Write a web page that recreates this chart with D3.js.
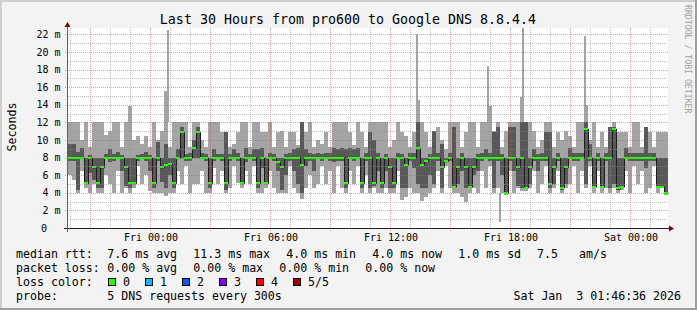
<!DOCTYPE html>
<html>
<head>
<meta charset="utf-8">
<script src="https://cdn.jsdelivr.net/npm/d3@7"></script>
<style>
  html, body { margin: 0; padding: 0; background: #f3f3f3; }
  svg { display: block; font-family: "DejaVu Sans Mono", monospace; }
  text { white-space: pre; }
</style>
</head>
<body>
<script>
// rtt samples in ms, one per 12 minute bin, Thu 19:54 -> Sat 01:54
var lo = [6,5.5,4,6.5,4.5,4,5,4,4,6, 5,4,6.5,4,4.5,4,4.5,7,5,6, 4.2,4,4,4,3.6,4,4,6.5,5,7,
          4,5,5,6.5,4,4,6.8,5,6.5,4, 4.5,7,5.1,4.5,6.5,5,7,4,4,4.5, 6.5,4.5,4,4,4,7,4.5,4,3.3,4.5,
          6,4.5,5,7,5,6.5,4,7,4.5,4, 6.5,5,7,4,6,4,4.5,4,4,4.5, 4,4,6.5,3.2,3.5,4.5,4,4,3.1,3.5,
          4,4.5,6.5,4,7,4.5,4,4,3.5,3, 4,4.5,4,6.5,4.5,7,4,4.5,4,3.8, 6.5,4,4.5,4.2,4.2,4.5,6.5,4,5,7,
          4,4.5,6.5,4,4.5,5,7,4,6.5,4.5, 7,4,6.5,4,4.5,4,4.5,4,4.3,6.5, 4,7,5,6.5,4,4.5,7,4,4.5,3.8];
var q1 = [7.6,7.6,4.3,7.8,5,6.2,5.5,4.5,4.5,7.8, 7.5,7.6,7.8,6.5,4.8,4.5,5,7.6,7.8,7.6, 6.5,4.5,7.6,5.2,4.5,6,4.5,7.8,8,7.6,
          7.6,8,8,7.8,7.6,4.5,7.6,7.8,7.6,4.3, 7.6,7.8,7.6,5,7.5,7.8,7.6,4.5,6.8,5, 7.8,7.6,6.5,4.3,6,7.6,6.5,5,4,7,
          7.6,6.5,7.8,7.6,7.8,7.6,7.5,7.6,7.6,4.5, 7.8,7.6,7.8,4.5,7.6,4.5,4.8,6.5,4.5,6.5, 4.5,4.5,7.8,4.5,4.6,7.6,6.8,5,4.5,4.5,
          6,5,7.6,4.5,7.5,7.6,4.5,5,6.5,4.5, 4.5,6,6.5,7.6,7.8,7.6,4.5,7.6,6,4, 7.6,6.5,4.8,4.5,4.5,5,7.6,6.5,7.6,7.6,
          4.5,5,7.6,4.3,5,7.8,7.6,7.6,7.8,5, 7.6,4.5,7.6,4.5,7.6,4.5,5,4.3,4.5,7.8, 7.6,7.6,7.6,7.6,6.8,7.6,7.6,4.5,4.6,3.9];
var med = [8,8,8,8,5.1,8,6.9,5.1,6.9,8, 8,8,8,8,6.9,5.1,5.1,8,8,8, 8,5.1,8,6.9,7.2,7.3,5.1,8,10.9,8,
           8,9.1,10.9,8,8,5.1,8,8,8,5.1, 8,8,8,5.1,8,8,8,5.1,8,5.1, 8,8,7.5,6.9,8,8,8,8,7.2,8,
           8,8,8,8,8,8,8,8,8,5.1, 8,8,8,5.1,8,8,5.1,8,5.1,8, 6.9,5.1,8,8,7.2,8,8,9.1,7.2,7.6,
           8,8,8,6.9,7.6,8,4.7,6.9,8,6.9, 4.7,6.9,8,8,8,8,8,8,8,4, 8,8,6.9,8,4.6,6.9,8,8,8,8,
           5,6.9,8,4.6,6.9,8,8,8,8,11.3, 8,4.7,8,4.7,8,8,11.3,4.5,4.7,8, 8,8,8,8,8,8,8,4.7,4.7,4];
var q3 = [9.5,9.5,8.6,9.1,8,8.3,8,8,8,8.4, 9,8.4,8.6,8.3,8,8,8,8.3,8.4,8.6, 8.3,8,9.8,8,9.5,8,8,9,11.5,8.4,
          8.5,10,11.5,8.5,8.4,8,9,8.4,8.4,10.9, 8.4,9,8.5,8,9.1,8.4,9,9,9.1,8, 8.5,8.4,8,8,8.4,8.5,9,9.1,12,9,
          8.5,8.4,8.5,8.4,8.5,8.5,9.1,9,9.1,9, 9.1,9,9.1,8,8.5,10.9,10,8.5,8,8.4, 8,8,8.5,8.4,8,8.5,8.5,12,8,8,
          8.4,11,8.5,9.5,8,8.5,11.5,8,8.5,8, 8,8,8.4,8.5,9,8.5,10.9,11.5,8.4,8, 11.5,11.5,8,12,12,8,9,8.4,8.5,10.9,
          10.9,8,8.5,8,8,9.1,8.5,8.5,8.5,12, 9.5,8,8.5,8,8.5,11.5,11.5,8,8,9.1, 8.5,8.5,8.5,8.5,11.5,8.5,8.5,8,8,8];
var hi = [12,12,12,10,12,9.2,12,12,12,10.6, 11,12,12,9.2,12,13.9,10,10.5,9.5,10.5, 9.2,12,10,11,15.6,9.2,12,12,12,12,
          9.2,12,12,10,9.2,12,12,12,10.9,10.9, 9.2,9.5,10.9,12,12,9.2,12,12,10.9,10.9, 12,9.2,10.9,11,9.2,10.9,10.9,9.4,12,10.9,
          12,9.2,10,9.5,10.9,9.2,12,12,12,12, 10.9,9.4,12,10.9,9.2,12,12,12,12,12, 9.2,10,12,10.9,10.5,9.2,10.9,14.5,12,10.9,
          9.2,11,11.5,10,9,12,12,12,9.2,10.9, 12,12,9.2,12,12,13.9,11,12,9.2,11, 12,12,12,14.9,12,12,11,9.2,10,12,
          12,9.2,10.9,10,11,10.5,9.2,12,12,14, 10,12,9.2,10.9,9.2,11.5,12,10.9,10.9,10.9, 9.2,12,12,9.2,11.5,10.9,9.2,10.9,10.9,10.9];

// single samples that reach far outside their bin (hours after start)
var spikeHours = [5.0, 17.45, 21.0, 21.6, 22.75, 25.85];
var spikeFrom  = [12, 12, 12, 4, 12, 12];
var spikeTo    = [22.5, 22.1, 18.4, 0.7, 22.7, 21.8];

var yTicks = [2,4,6,8,10,12,14,16,18,20,22];
var lossLabels = ["0","1","2","3","4","5/5"];
var lossColors = ["#26ff00","#00b8ff","#0059ff","#7e00ff","#ff0000","#a10000"];
var rttLegend  = ["7.6 ms avg","11.3 ms max"," 4.0 ms min"," 4.0 ms now"," 1.0 ms sd"];
var lossLegend = ["0.00 % avg","0.00 % max","0.00 % min","0.00 % now"];

var W = 697, H = 310;
var pL = 68, pR = 668, pT = 28, pB = 228;
var t0 = new Date(2026, 0, 1, 19, 54), t1 = new Date(2026, 0, 3, 1, 54);
var binMin = 12;

var x = d3.scaleTime().domain([t0, t1]).range([pL, pR]);
var y = d3.scaleLinear().domain([0, 200 / 8.8]).range([pB, pT]);

var svg = d3.select("body").append("svg").attr("width", W).attr("height", H);

// background + 3d frame
svg.append("rect").attr("width", W).attr("height", H).attr("fill", "#f3f3f3");
svg.append("path").attr("d", "M0,0H697V2H2V310H0Z").attr("fill", "#cfcfcf");
svg.append("path").attr("d", "M697,0V310H0V308H695V0Z").attr("fill", "#9e9e9e");
svg.append("rect").attr("x", pL).attr("y", pT).attr("width", pR - pL).attr("height", pB - pT).attr("fill", "#fff");

var bins = d3.range(med.length).map(function(i) {
  return { a: d3.timeMinute.offset(t0, binMin * i), b: d3.timeMinute.offset(t0, binMin * (i + 1)),
           lo: lo[i], q1: q1[i], med: med[i], q3: q3[i], hi: hi[i] };
});

var plot = svg.append("g").attr("shape-rendering", "crispEdges");

// outer smoke (min..max)
plot.selectAll(".s1").data(bins).enter().append("rect")
  .attr("x", function(d) { return x(d.a); })
  .attr("width", function(d) { return x(d.b) - x(d.a); })
  .attr("y", function(d) { return y(d.hi); })
  .attr("height", function(d) { return y(d.lo) - y(d.hi); })
  .attr("fill", "#a4a4a4");

// spikes
plot.selectAll(".sp").data(spikeHours).enter().append("rect")
  .attr("x", function(h) { return x(d3.timeMinute.offset(t0, h * 60)) - 1; })
  .attr("width", 2)
  .attr("y", function(h, i) { return y(Math.max(spikeFrom[i], spikeTo[i])); })
  .attr("height", function(h, i) { return Math.abs(y(spikeFrom[i]) - y(spikeTo[i])); })
  .attr("fill", "#a4a4a4");

// inner smoke
plot.selectAll(".s2").data(bins).enter().append("rect")
  .attr("x", function(d) { return x(d.a); })
  .attr("width", function(d) { return x(d.b) - x(d.a); })
  .attr("y", function(d) { return y(d.q3); })
  .attr("height", function(d) { return y(d.q1) - y(d.q3); })
  .attr("fill", "#585858");

// median: dark step line, green box per sample on top
var stepPts = bins.map(function(d) { return [x(d.a), y(d.med)]; });
stepPts.push([x(t1), y(med[med.length - 1])]);
svg.append("path")
  .attr("d", d3.line().curve(d3.curveStepAfter)(stepPts))
  .attr("fill", "none").attr("stroke", "#1c1c1c").attr("stroke-width", 1)
  .attr("transform", "translate(0.5,0.5)");

svg.append("g").attr("shape-rendering", "crispEdges")
  .selectAll("rect").data(bins).enter().append("rect")
  .attr("x", function(d) { return x(d.a); })
  .attr("width", function(d) { return x(d.b) - x(d.a); })
  .attr("y", function(d) { return Math.round(y(d.med)) - 1; })
  .attr("height", 2)
  .attr("fill", lossColors[0]);

// grid
var grid = svg.append("g").attr("stroke-dasharray", "1,1").attr("shape-rendering", "crispEdges");
var hours = d3.timeHour.range(t0, t1);
grid.selectAll(".vg").data(hours).enter().append("line")
  .attr("x1", function(d) { return Math.round(x(d)) + 0.5; })
  .attr("x2", function(d) { return Math.round(x(d)) + 0.5; })
  .attr("y1", pT)
  .attr("y2", function(d) { return d.getHours() % 3 === 0 ? pB + 3 : pB; })
  .attr("stroke", function(d) { return d.getHours() % 3 === 0 ? "rgba(222,80,80,0.55)" : "rgba(143,143,143,0.55)"; });

var minorY = d3.range(1, 23);
grid.selectAll(".hg").data(minorY).enter().append("line")
  .attr("x1", function(v) { return v % 2 === 0 ? pL - 3 : pL; })
  .attr("x2", pR)
  .attr("y1", function(v) { return Math.round(y(v)) + 0.5; })
  .attr("y2", function(v) { return Math.round(y(v)) + 0.5; })
  .attr("stroke", function(v) { return v % 2 === 0 ? "rgba(222,80,80,0.55)" : "rgba(143,143,143,0.55)"; });

// axes
svg.append("line").attr("x1", pL - 4).attr("x2", pR + 2).attr("y1", pB + 0.5).attr("y2", pB + 0.5)
  .attr("stroke", "#202020");
svg.append("line").attr("x1", pL - 0.5).attr("x2", pL - 0.5).attr("y1", pB + 4).attr("y2", pT - 2)
  .attr("stroke", "#606060");
svg.append("path").attr("d", "M" + (pR + 1) + "," + (pB - 2.5) + "L" + (pR + 6) + "," + (pB + 0.5) + "L" + (pR + 1) + "," + (pB + 3.5) + "Z")
  .attr("fill", "#7f0000");
svg.append("path").attr("d", "M" + (pL - 3.5) + "," + (pT - 1) + "L" + (pL - 0.5) + "," + (pT - 6) + "L" + (pL + 2.5) + "," + (pT - 1) + "Z")
  .attr("fill", "#7f0000");

// tick labels
svg.selectAll(".yl").data(yTicks).enter().append("text")
  .attr("x", 60.5).attr("y", function(v) { return y(v) + 3.5; })
  .attr("text-anchor", "end").attr("font-size", "10px").attr("fill", "#000")
  .text(function(v) { return v + " m"; });
svg.append("text").attr("x", 47).attr("y", y(0) + 3.5).attr("text-anchor", "end")
  .attr("font-size", "10px").text("0");

var fmt = d3.timeFormat("%a %H:%M");
svg.selectAll(".xl").data(d3.timeHour.every(6).range(t0, t1)).enter().append("text")
  .attr("x", function(d) { return x(d) + 1; }).attr("y", 241)
  .attr("text-anchor", "middle").attr("font-size", "10px")
  .text(function(d) { return fmt(d); });

// titles
svg.append("text").attr("x", 348).attr("y", 24).attr("text-anchor", "middle")
  .attr("font-size", "13.3px").text("Last 30 Hours from pro600 to Google DNS 8.8.4.4");
svg.append("text").attr("transform", "translate(15.5,127) rotate(-90)").attr("text-anchor", "middle")
  .attr("font-size", "11.6px").text("Seconds");
svg.append("text").attr("transform", "translate(685,5) rotate(90)")
  .attr("font-size", "8.2px").attr("fill", "#a0a0a0").text("RRDTOOL / TOBI OETIKER");

// legend
var lg = svg.append("g").attr("font-size", "11.6px").attr("fill", "#000");
var col0 = 16, col1 = 107.3, colStep = 86;
lg.append("text").attr("x", col0).attr("y", 258).text("median rtt:");
lg.selectAll(".r1").data(rttLegend).enter().append("text")
  .attr("x", function(d, i) { return col1 + colStep * i; }).attr("y", 258).text(function(d) { return d; });
lg.append("text").attr("x", 537).attr("y", 258).text("7.5");
lg.append("text").attr("x", 579).attr("y", 258).text("am/s");

lg.append("text").attr("x", col0).attr("y", 272).text("packet loss:");
lg.selectAll(".r2").data(lossLegend).enter().append("text")
  .attr("x", function(d, i) { return col1 + colStep * i; }).attr("y", 272).text(function(d) { return d; });

lg.append("text").attr("x", col0).attr("y", 286).text("loss color:");
var sw = lg.selectAll(".sw").data(lossLabels).enter().append("g")
  .attr("transform", function(d, i) { return "translate(" + (108 + 37 * i) + ",0)"; });
sw.append("rect").attr("x", 0.5).attr("y", 278.5).attr("width", 7).attr("height", 7)
  .attr("fill", function(d, i) { return lossColors[i]; }).attr("stroke", "#000");
sw.append("text").attr("x", 15).attr("y", 286).text(function(d) { return d; });

lg.append("text").attr("x", col0).attr("y", 300).text("probe:");
lg.append("text").attr("x", col1).attr("y", 300).text("5 DNS requests every 300s");
lg.append("text").attr("x", 681).attr("y", 300).attr("text-anchor", "end").text("Sat Jan  3 01:46:36 2026");
</script>
</body>
</html>
